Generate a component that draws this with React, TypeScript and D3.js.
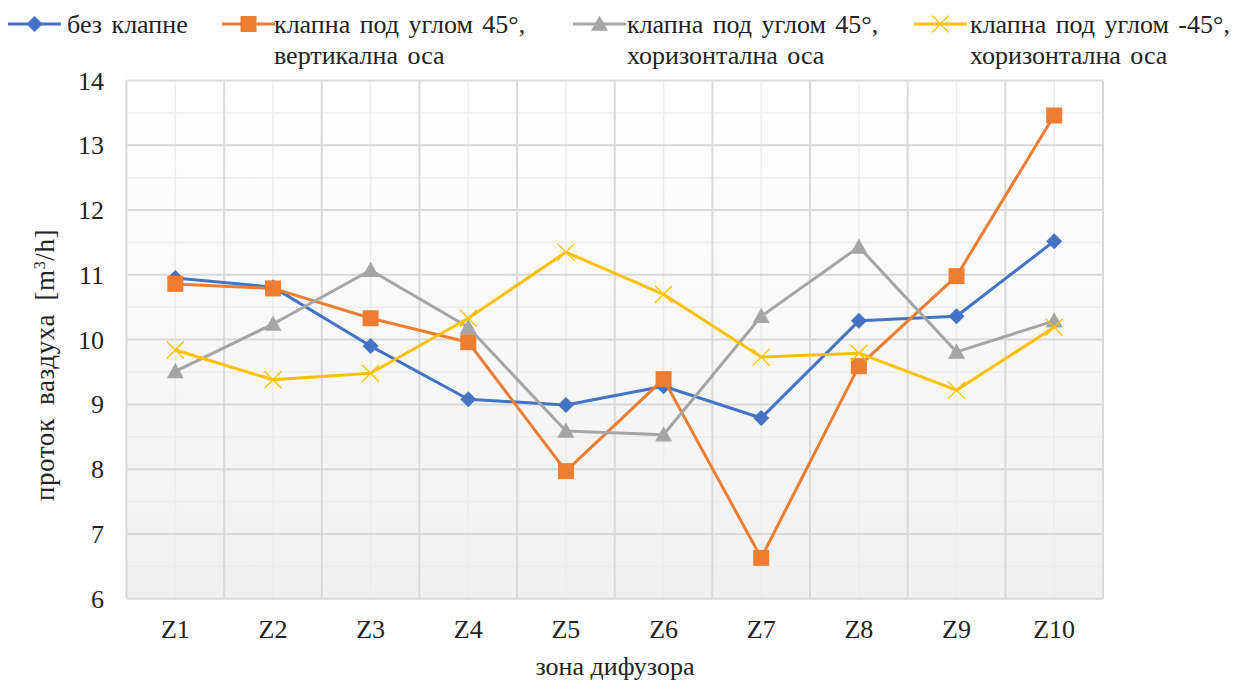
import React from "react";
import * as d3 from "d3";

const categories = ["Z1", "Z2", "Z3", "Z4", "Z5", "Z6", "Z7", "Z8", "Z9", "Z10"];
const seriesNames = [
  ["без клапне"],
  ["клапна под углом 45°,", "вертикална оса"],
  ["клапна под углом 45°,", "хоризонтална оса"],
  ["клапна под углом -45°,", "хоризонтална оса"],
];
const bezKlapne = [10.95, 10.81, 9.9, 9.08, 8.99, 9.28, 8.79, 10.29, 10.36, 11.52];
const vertikalna45 = [10.86, 10.79, 10.33, 9.96, 7.97, 9.39, 6.63, 9.59, 10.98, 13.46];
const horizontalna45 = [9.51, 10.24, 11.07, 10.19, 8.59, 8.53, 10.36, 11.43, 9.81, 10.29];
const horizontalnaM45 = [9.84, 9.38, 9.48, 10.33, 11.35, 10.7, 9.73, 9.79, 9.22, 10.19];
const yTicks = [6, 7, 8, 9, 10, 11, 12, 13, 14];
const colors = ["#4472C4", "#ED7D31", "#A5A5A5", "#FFC000"];
const markers = ["diamond", "square", "triangle", "x"];
const yTitle = "проток ваздуха [m";
const xTitle = "зона дифузора";

const FONT = "Liberation Serif";

function Marker({ type, x, y, color }: { type: string; x: number; y: number; color: string }) {
  if (type === "diamond") {
    const s = 8;
    return <path d={`M${x},${y - s}L${x + s},${y}L${x},${y + s}L${x - s},${y}Z`} fill={color} />;
  }
  if (type === "square") {
    const s = 8;
    return <rect x={x - s} y={y - s} width={2 * s} height={2 * s} fill={color} />;
  }
  if (type === "triangle") {
    const s = 8.5;
    return <path d={`M${x},${y - s}L${x + s},${y + s * 0.8}L${x - s},${y + s * 0.8}Z`} fill={color} />;
  }
  const s = 8.5;
  return (
    <path
      d={`M${x - s},${y - s}L${x + s},${y + s}M${x - s},${y + s}L${x + s},${y - s}`}
      stroke={color}
      strokeWidth={1.3}
      fill="none"
    />
  );
}

export default function App() {
  const W = 1234, H = 680;
  const left = 126.5, right = 1103, top = 80.5, bottom = 598.7;
  const x = d3.scaleBand<string>().domain(categories).range([left, right]);
  const y = d3.scaleLinear().domain([6, 14]).range([bottom, top]);
  const data = [bezKlapne, vertikalna45, horizontalna45, horizontalnaM45];
  const cx = (c: string) => (x(c) as number) + x.bandwidth() / 2;
  const line = d3
    .line<number>()
    .x((_, i) => cx(categories[i]))
    .y((d) => y(d));

  const minor = d3.range(6.5, 14, 1);
  const legendItems = [
    { lx: 8, tx: 67 },
    { lx: 222, tx: 274 },
    { lx: 573, tx: 627 },
    { lx: 914, tx: 970 },
  ];
  const ts = { fontFamily: FONT };

  return (
    <svg width={W} height={H} style={{ position: "absolute", left: 0, top: 0, fontFamily: FONT }}>
      <defs>
        <linearGradient id="bg" x1="0" y1="0" x2="0" y2="1">
          <stop offset="0" stopColor="#ffffff" />
          <stop offset="1" stopColor="#f0f0f0" />
        </linearGradient>
      </defs>
      <rect x={0} y={0} width={W} height={H} fill="#fff" />
      <rect x={left} y={top} width={right - left} height={bottom - top} fill="url(#bg)" />
      {minor.map((v) => (
        <line key={"mh" + v} x1={left} x2={right} y1={y(v)} y2={y(v)} stroke="#ececec" strokeWidth={1.5} />
      ))}
      {categories.map((c) => (
        <line key={"mv" + c} x1={cx(c)} x2={cx(c)} y1={top} y2={bottom} stroke="#ececec" strokeWidth={1.5} />
      ))}
      {yTicks.map((v) => (
        <line key={"h" + v} x1={left} x2={right} y1={y(v)} y2={y(v)} stroke="#d9d9d9" strokeWidth={2} />
      ))}
      {categories.map((c) => (
        <line
          key={"v" + c}
          x1={x(c) as number}
          x2={x(c) as number}
          y1={top}
          y2={bottom}
          stroke="#d9d9d9"
          strokeWidth={2}
        />
      ))}
      <line x1={right} x2={right} y1={top} y2={bottom} stroke="#d9d9d9" strokeWidth={2} />
      {yTicks.map((v) => (
        <text key={"yt" + v} x={104} y={y(v) + 9} textAnchor="end" fontSize={26} fill="#222" style={ts}>
          {v}
        </text>
      ))}
      {categories.map((c) => (
        <text key={"xt" + c} x={cx(c)} y={638} textAnchor="middle" fontSize={26} fill="#222" style={ts}>
          {c}
        </text>
      ))}
      {data.map((s, si) => (
        <g key={"s" + si}>
          <path d={line(s) as string} fill="none" stroke={colors[si]} strokeWidth={3} strokeLinejoin="round" />
          {s.map((v, i) => (
            <Marker key={i} type={markers[si]} x={cx(categories[i])} y={y(v)} color={colors[si]} />
          ))}
        </g>
      ))}
      <text
        transform={`translate(54,365) rotate(-90)`}
        textAnchor="middle"
        fontSize={27}
        fill="#222"
        style={{ ...ts, wordSpacing: 6, letterSpacing: 0.6 }}
      >
        {yTitle}
        <tspan dy={-9} fontSize={16}>3</tspan>
        <tspan dy={9}>/h]</tspan>
      </text>
      <text x={615} y={675} textAnchor="middle" fontSize={26} fill="#222" style={ts}>
        {xTitle}
      </text>
      {legendItems.map((it, i) => (
        <g key={"lg" + i}>
          <line x1={it.lx} x2={it.lx + 53} y1={24} y2={24} stroke={colors[i]} strokeWidth={3} />
          <Marker type={markers[i]} x={it.lx + 26.5} y={24} color={colors[i]} />
          {seriesNames[i].map((t, j) => (
            <text key={j} x={it.tx} y={33 + j * 31} fontSize={26} fill="#222" style={{ ...ts, wordSpacing: 3 }}>
              {t}
            </text>
          ))}
        </g>
      ))}
    </svg>
  );
}
